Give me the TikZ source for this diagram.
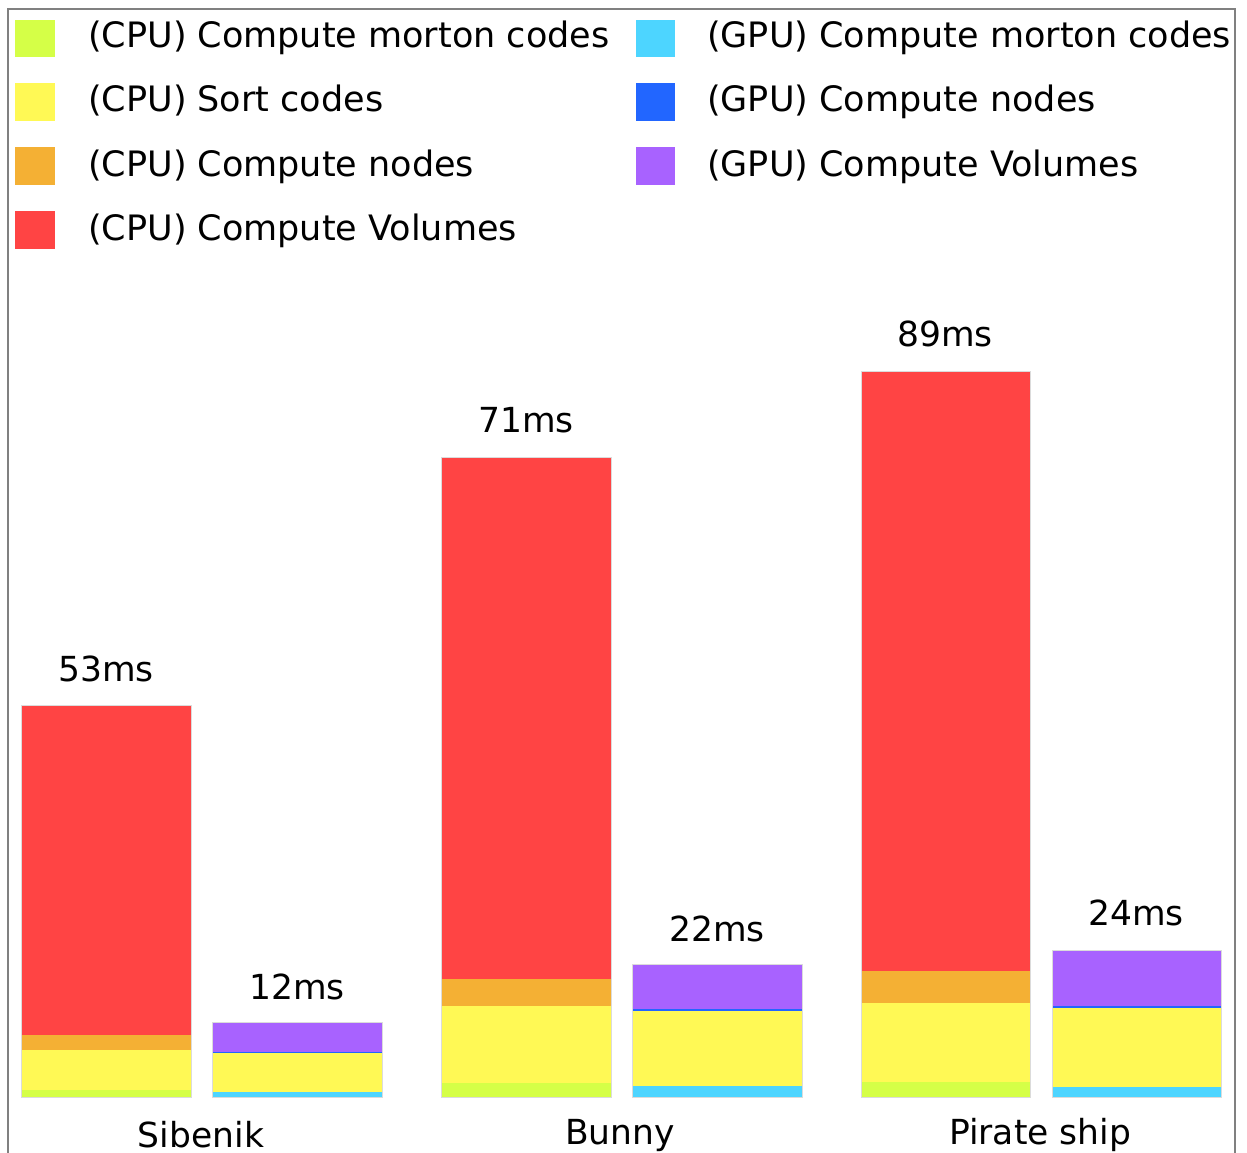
\documentclass[tikz,border=0pt]{standalone}
\usepackage{fontspec}
\setmainfont{DejaVu Sans}

% segment colours
\definecolor{cpumorton}{RGB}{213,255,71}
\definecolor{cpusort}{RGB}{255,249,85}
\definecolor{cpunodes}{RGB}{244,176,52}
\definecolor{cpuvol}{RGB}{255,68,68}
\definecolor{gpumorton}{RGB}{77,213,255}
\definecolor{gpunodes}{RGB}{34,102,255}
\definecolor{gpuvol}{RGB}{168,98,255}

\begin{document}
\begin{tikzpicture}[x=1pt,y=-1pt,
  font=\fontsize{34.5}{40}\selectfont,
  framecol/.style={draw=black!50,line width=1.6pt},
  barline/.style={draw=black!14,line width=0.8pt},
  legtext/.style={anchor=base west,inner sep=0pt,font=\fontsize{35}{40}\selectfont},
  vallabel/.style={anchor=base,inner sep=0pt},
  catlabel/.style={anchor=base,inner sep=0pt}]
\useasboundingbox (0,0) rectangle (1247,1153);

% surrounding frame (open at the bottom)
\draw[framecol] (8,1153) -- (8,9) -- (1235,9) -- (1235,1153);

% ---- legend ----
\fill[cpumorton] (15,20)  rectangle (55,57);
\fill[cpusort]   (15,83)  rectangle (55,121);
\fill[cpunodes]  (15,147) rectangle (55,185);
\fill[cpuvol]    (15,211) rectangle (55,249);
\fill[gpumorton] (636,20)  rectangle (675,57);
\fill[gpunodes]  (636,83)  rectangle (675,121);
\fill[gpuvol]    (636,147) rectangle (675,185);

\node[legtext] (lc1) at (88,48)  {(CPU) Compute morton codes};
\node[legtext] (lc2) at (88,112) {(CPU) Sort codes};
\node[legtext] (lc3) at (88,176) {(CPU) Compute nodes};
\node[legtext] (lc4) at (88,240) {(CPU) Compute Volumes};
\node[legtext] (lg1) at (707,48)  {(GPU) Compute morton codes};
\node[legtext] (lg2) at (707,112) {(GPU) Compute nodes};
\node[legtext] (lg3) at (707,176) {(GPU) Compute Volumes};

% ---- Sibenik ----
\fill[cpuvol]    (21,705)  rectangle (191,1035);
\fill[cpunodes]  (21,1035) rectangle (191,1050);
\fill[cpusort]   (21,1050) rectangle (191,1090);
\fill[cpumorton] (21,1090) rectangle (191,1097);
\draw[barline]   (21,705)  rectangle (191,1097);

\fill[gpuvol]    (212,1022)  rectangle (382,1052);
\fill[gpunodes]  (212,1052)  rectangle (382,1053.2);
\fill[cpusort]   (212,1053.2) rectangle (382,1092);
\fill[gpumorton] (212,1092)  rectangle (382,1097);
\draw[barline]   (212,1022)  rectangle (382,1097);

% ---- Bunny ----
\fill[cpuvol]    (441,457)  rectangle (611,979);
\fill[cpunodes]  (441,979)  rectangle (611,1006);
\fill[cpusort]   (441,1006) rectangle (611,1083);
\fill[cpumorton] (441,1083) rectangle (611,1097);
\draw[barline]   (441,457)  rectangle (611,1097);

\fill[gpuvol]    (632,964)  rectangle (802,1009);
\fill[gpunodes]  (632,1009) rectangle (802,1011);
\fill[cpusort]   (632,1011) rectangle (802,1086);
\fill[gpumorton] (632,1086) rectangle (802,1097);
\draw[barline]   (632,964)  rectangle (802,1097);

% ---- Pirate ship ----
\fill[cpuvol]    (861,371)  rectangle (1030,971);
\fill[cpunodes]  (861,971)  rectangle (1030,1003);
\fill[cpusort]   (861,1003) rectangle (1030,1082);
\fill[cpumorton] (861,1082) rectangle (1030,1097);
\draw[barline]   (861,371)  rectangle (1030,1097);

\fill[gpuvol]    (1052,950)  rectangle (1221,1006);
\fill[gpunodes]  (1052,1006) rectangle (1221,1008);
\fill[cpusort]   (1052,1008) rectangle (1221,1087);
\fill[gpumorton] (1052,1087) rectangle (1221,1097);
\draw[barline]   (1052,950)  rectangle (1221,1097);

% ---- totals ----
\node[vallabel] (t1) at (106,681)  {53ms};
\node[vallabel] (t2) at (297,999) {12ms};
\node[vallabel] (t3) at (526,432)  {71ms};
\node[vallabel] (t4) at (717,941)  {22ms};
\node[vallabel] (t5) at (945,346)  {89ms};
\node[vallabel] (t6) at (1136,925) {24ms};

% ---- scene names ----
\node[catlabel] (s1) at (201,1147) {Sibenik};
\node[catlabel] (s2) at (620,1144) {Bunny};
\node[catlabel] (s3) at (1040,1144) {Pirate ship};
\end{tikzpicture}
\end{document}
